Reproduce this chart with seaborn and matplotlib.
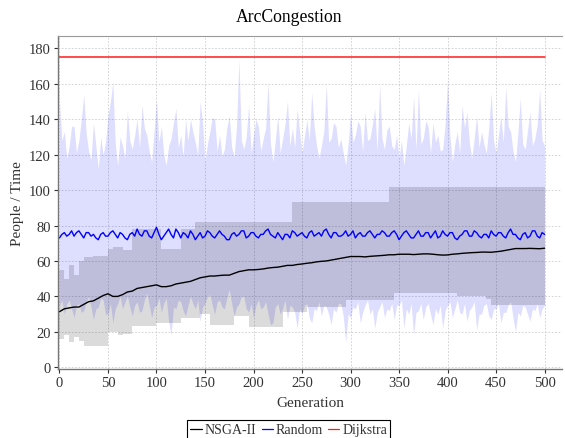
import numpy as np
import matplotlib
matplotlib.use("Agg")
import matplotlib.pyplot as plt
import seaborn as sns
from matplotlib.lines import Line2D

# --- Data ---
# NSGA-II: one value every 5 generations
GENS = list(range(0, 501, 5))

nsga_mean = [31.4, 33, 33.5, 34, 34, 35.5, 37, 37.5, 39, 40.5,
             41.5, 40, 40, 41, 42.5, 43, 44.5, 45, 45.5, 46,
             46.5, 45.5, 45.5, 46, 47, 47.5, 48, 48.5, 49.5, 50.5,
             51, 51.5, 51.5, 51.8, 52, 52, 53, 54, 54.5, 55,
             55, 55.2, 55.5, 56, 56.3, 56.5, 57, 57.5, 57.5, 58,
             58.3, 58.7, 59, 59.5, 59.8, 60, 60.5, 61, 61.5, 62,
             62.5, 62.5, 62.5, 62.3, 62.6, 62.8, 63, 63.2, 63.5, 63.5,
             63.8, 63.8, 63.8, 63.6, 63.8, 64, 64, 63.8, 63.5, 63.3,
             63.4, 63.8, 64, 64.3, 64.5, 64.7, 64.8, 65, 65, 64.9,
             65.2, 65.5, 66, 66.5, 67, 67, 67, 67.1, 67, 66.9,
             67.2]

nsga_max = [55, 50, 58, 52, 60, 62, 62, 63, 63, 63,
            67, 68, 68, 66, 66, 78, 78, 78, 78, 78,
            78, 67, 67, 67, 67, 78, 78, 78, 82, 82,
            82, 82, 82, 82, 82, 82, 82, 82, 82, 82,
            82, 82, 82, 82, 82, 82, 82, 82, 93, 93,
            93, 93, 93, 93, 93, 93, 93, 93, 93, 93,
            93, 93, 93, 93, 93, 93, 93, 93, 102, 102,
            102, 102, 102, 102, 102, 102, 102, 102, 102, 102,
            102, 102, 102, 102, 102, 102, 102, 102, 102, 102,
            102, 102, 102, 102, 102, 102, 102, 102, 102, 102,
            102]

nsga_min = [16, 18, 14, 17, 15, 12, 12, 12, 12, 12,
            20, 20, 18, 19, 19, 23.5, 23.5, 23.5, 23.5, 23.5,
            25, 25, 25, 25, 25, 28, 28, 28, 28, 30,
            30, 24, 24, 24, 24, 24, 29, 29, 29, 23,
            23, 23, 23, 23, 23, 23, 31, 31, 31, 31,
            31, 34, 34, 34, 34, 34, 34, 34, 34, 38,
            38, 38, 38, 38, 38, 38, 38, 38, 38, 42,
            42, 42, 42, 42, 42, 42, 42, 42, 42, 42,
            42, 42, 40.5, 40.5, 40.5, 40.5, 40.5, 40.5, 38.5, 35,
            35, 35, 35, 35, 35, 35, 35, 35, 35, 35,
            35]

# Random: one value every 2.5 generations
RANDOM_GENS = np.arange(0, 500.1, 2.5)

random_mean = [73, 75, 76, 74, 75, 77, 74, 76, 77, 75,
               73, 76, 76, 74, 75, 73, 72, 75, 76, 74,
               74, 76, 77, 75, 73, 76, 75, 73, 72, 75,
               76, 74, 78, 75, 74, 77, 77, 74, 73, 76,
               79, 75, 72, 74, 76, 78, 75, 73, 78, 76,
               73, 76, 75, 73, 77, 75, 72, 74, 76, 73,
               74, 77, 76, 74, 73, 75, 77, 75, 74, 72,
               72, 75, 76, 74, 75, 77, 77, 73, 74, 76,
               76, 74, 73, 75, 75, 77, 78, 75, 74, 73,
               76, 74, 72, 75, 75, 73, 77, 76, 74, 75,
               76, 74, 73, 76, 77, 74, 75, 76, 74, 77,
               78, 75, 73, 76, 76, 74, 74, 75, 77, 74,
               75, 77, 73, 75, 76, 74, 74, 76, 77, 75,
               73, 75, 75, 77, 76, 74, 74, 76, 77, 75,
               72, 74, 76, 77, 75, 73, 73, 75, 77, 74,
               74, 76, 76, 73, 75, 77, 73, 74, 77, 75,
               74, 76, 76, 73, 72, 74, 75, 77, 77, 74,
               74, 77, 76, 74, 73, 75, 75, 73, 77, 75,
               74, 76, 76, 74, 73, 76, 78, 75, 75, 73,
               72, 75, 76, 73, 74, 77, 77, 74, 73, 76,
               75]

random_max = [150, 128, 133, 118, 125, 136, 136, 121, 128, 140,
              154, 132, 122, 117, 138, 125, 112, 130, 120, 127,
              142, 150, 161, 126, 114, 130, 125, 118, 145, 128,
              123, 131, 140, 124, 148, 135, 131, 122, 116, 133,
              151, 127, 136, 120, 114, 125, 129, 138, 146, 124,
              131, 119, 140, 128, 140, 133, 127, 120, 150, 138,
              116, 126, 133, 141, 140, 122, 131, 119, 123, 135,
              142, 124, 119, 136, 174, 128, 123, 130, 148, 121,
              131, 140, 136, 122, 129, 135, 161, 126, 116, 128,
              142, 121, 129, 137, 150, 125, 135, 124, 146, 133,
              121, 130, 140, 128, 155, 136, 125, 118, 125, 133,
              160, 127, 129, 138, 136, 124, 129, 121, 114, 126,
              144, 127, 131, 139, 136, 122, 144, 128, 129, 137,
              146, 122, 160, 129, 123, 134, 136, 125, 123, 131,
              118, 128, 114, 125, 138, 129, 153, 123, 157, 126,
              129, 139, 136, 121, 138, 127, 131, 122, 123, 137,
              163, 130, 116, 126, 133, 121, 148, 135, 144, 127,
              118, 129, 142, 124, 133, 126, 121, 135, 155, 128,
              121, 131, 142, 127, 158, 136, 133, 122, 116, 132,
              152, 126, 123, 134, 144, 125, 129, 137, 157, 128,
              125]

random_min = [35, 38, 30, 36, 38, 33, 28, 35, 36, 31,
              32, 37, 40, 34, 27, 33, 34, 39, 38, 30,
              30, 36, 25, 33, 36, 40, 33, 37, 40, 34,
              29, 35, 37, 31, 32, 38, 42, 35, 28, 34,
              35, 39, 31, 36, 39, 26, 18, 34, 33, 38,
              37, 32, 29, 35, 40, 36, 33, 38, 26, 34,
              36, 40, 41, 35, 30, 37, 38, 34, 33, 39,
              44, 36, 29, 34, 36, 40, 40, 33, 31, 36,
              28, 35, 38, 33, 34, 37, 30, 24, 25, 34,
              36, 30, 33, 38, 27, 35, 34, 31, 22, 33,
              30, 35, 36, 28, 25, 33, 32, 37, 29, 35,
              34, 30, 24, 33, 31, 36, 36, 29, 14, 30,
              28, 34, 33, 37, 25, 31, 35, 38, 30, 33,
              22, 31, 34, 37, 28, 33, 32, 36, 27, 35,
              35, 38, 22, 33, 30, 36, 18, 31, 32, 36,
              27, 34, 36, 30, 24, 33, 30, 35, 22, 32,
              35, 37, 28, 33, 38, 31, 30, 36, 26, 32,
              34, 37, 21, 30, 30, 35, 36, 29, 27, 33,
              33, 36, 25, 31, 31, 35, 37, 28, 20, 31,
              29, 35, 34, 30, 26, 33, 32, 36, 28, 33,
              35]

dijkstra = [175] * len(GENS)

# --- Style ---
sns.set_theme(style="white")
plt.rcParams["font.family"] = ["Liberation Serif", "DejaVu Serif"]
TEXT = "#333333"

fig = plt.figure(figsize=(5.65, 4.39), dpi=100)
ax = fig.add_axes([0.1027, 0.157, 0.892, 0.759])

# bands
ax.fill_between(RANDOM_GENS, random_min, random_max, color="blue", alpha=0.13, lw=0)
ax.fill_between(GENS, nsga_min, nsga_max, color="black", alpha=0.14, lw=0, step="post")

# mean lines
sns.lineplot(x=GENS, y=nsga_mean, color="black", lw=1.0, ax=ax)
sns.lineplot(x=RANDOM_GENS, y=random_mean, color="#0000ff", lw=1.0, ax=ax)
sns.lineplot(x=GENS, y=dijkstra, color="#ff1a1a", lw=1.1, ax=ax)

ax.set_xlim(-1.5, 518)
ax.set_ylim(-1, 187)
ax.set_xticks(range(0, 501, 50))
ax.set_yticks(range(0, 181, 20))
ax.grid(True, color="#cccccc", linestyle=(0, (2, 2)), lw=0.6)
ax.set_axisbelow(True)

for side in ["left", "bottom"]:
    ax.spines[side].set_color("#777777")
    ax.spines[side].set_linewidth(1.0)
ax.spines["top"].set_color("#999999")
ax.spines["top"].set_linewidth(0.8)
ax.spines["right"].set_visible(False)

ax.tick_params(axis="both", labelsize=10.5, colors=TEXT, length=3, width=0.8,
               direction="out", left=True, bottom=True, pad=2)
ax.set_xlabel("Generation", fontsize=11, color=TEXT, labelpad=5)
ax.set_ylabel("People / Time", fontsize=11, color=TEXT, labelpad=4)
fig.suptitle("ArcCongestion", x=0.512, y=0.959, va="center", fontsize=12.7, color="black")

handles = [Line2D([], [], color="black", lw=0.9),
           Line2D([], [], color="#0000ff", lw=0.9),
           Line2D([], [], color="#ff1a1a", lw=0.9)]
leg = fig.legend(handles, ["NSGA-II", "Random", "Dijkstra"], loc="lower center",
                 bbox_to_anchor=(0.511, -0.02), ncol=3, fontsize=10,
                 handlelength=0.8, handletextpad=0.2, columnspacing=0.4,
                 borderpad=0.25, fancybox=False, framealpha=1, edgecolor="black")
leg.get_frame().set_linewidth(0.8)
for t in leg.get_texts():
    t.set_color(TEXT)

fig.savefig("out.png", dpi=100)
